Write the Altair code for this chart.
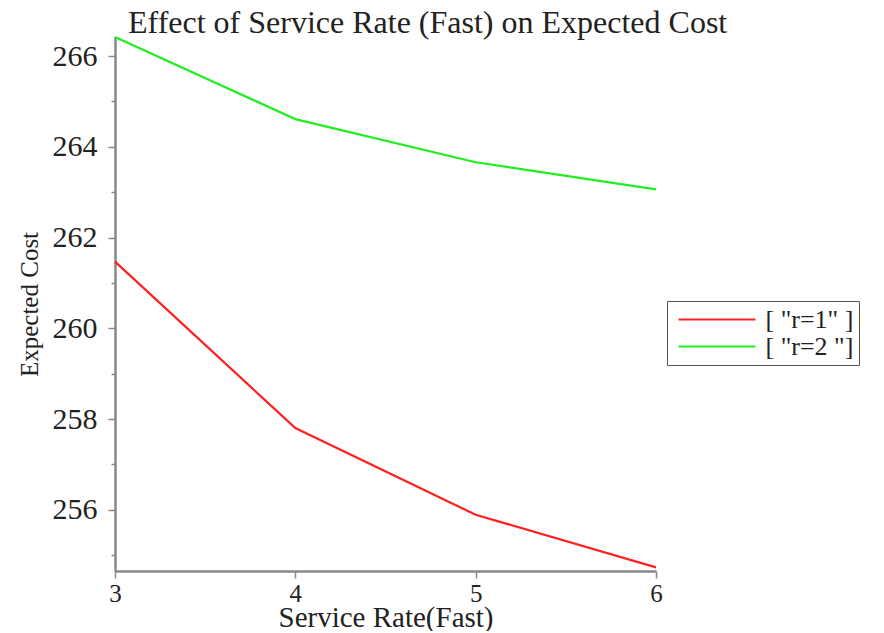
import altair as alt
import pandas as pd

x_vals = [3, 4, 5, 6]
r1_cost = [261.47, 257.80, 255.89, 254.73]
r2_cost = [266.42, 264.61, 263.66, 263.06]
series_labels = ['[ "r=1" ]', '[ "r=2 "]']
colors = ["#ff2020", "#20ee20"]

rows = []
for xv, c in zip(x_vals, r1_cost):
    rows.append({"rate": xv, "cost": c, "series": series_labels[0]})
for xv, c in zip(x_vals, r2_cost):
    rows.append({"rate": xv, "cost": c, "series": series_labels[1]})
df = pd.DataFrame(rows)

FONT = "Liberation Serif"

chart = alt.Chart(df).mark_line(strokeWidth=2.2).encode(
    x=alt.X("rate:Q",
            scale=alt.Scale(domain=[3, 6], nice=False, zero=False),
            axis=alt.Axis(title="Service Rate(Fast)",
                          values=[3, 3.5, 4, 4.5, 5, 5.5, 6],
                          format="d", labelFlush=False,
                          labelExpr="datum.value % 1 == 0 ? datum.label : ''",
                          tickSize={"condition": {"test": "datum.value % 1 == 0", "value": 7}, "value": 4},
                          grid=False)),
    y=alt.Y("cost:Q",
            scale=alt.Scale(domain=[254.65, 266.42], nice=False, zero=False),
            axis=alt.Axis(title="Expected Cost",
                          values=list(range(255, 267)),
                          format="d",
                          labelExpr="datum.value % 2 == 0 ? datum.label : ''",
                          tickSize={"condition": {"test": "datum.value % 2 == 0", "value": 7}, "value": 4},
                          grid=False)),
    color=alt.Color("series:N",
                    scale=alt.Scale(domain=series_labels, range=colors),
                    legend=alt.Legend(title=None, orient="none", legendX=552, legendY=264,
                                      symbolType="M-3.2,0H3.2", symbolSize=576, symbolStrokeWidth=2.2,
                                      symbolOffset=31.5,
                                      labelFont=FONT, labelFontSize=26, labelColor="#222",
                                      strokeColor="#555", padding=5, rowPadding=0,
                                      labelOffset=35, labelLimit=300)),
).properties(
    width=541, height=534,
    padding={"left": 107, "top": 29, "right": 220, "bottom": 60},
    autosize=alt.AutoSizeParams(type="none"),
    title=alt.TitleParams("Effect of Service Rate (Fast) on Expected Cost",
                          font=FONT, fontSize=32, fontWeight="normal", color="#222",
                          anchor="start", frame="group", dx=13, dy=13, offset=6),
).configure_view(stroke=None).configure_axis(
    labelFont=FONT, labelColor="#222",
    titleFont=FONT, titleFontWeight="normal", titleColor="#222",
    domainColor="#888", domainWidth=2.5, tickColor="#888", tickWidth=1.5,
).configure_axisY(titlePadding=10, titleFontSize=25, labelFontSize=30, labelPadding=11
).configure_axisX(titlePadding=-3, titleFontSize=29, labelFontSize=25, labelPadding=3)

chart.save("out.html", embed_options={"renderer": "svg", "actions": False})
